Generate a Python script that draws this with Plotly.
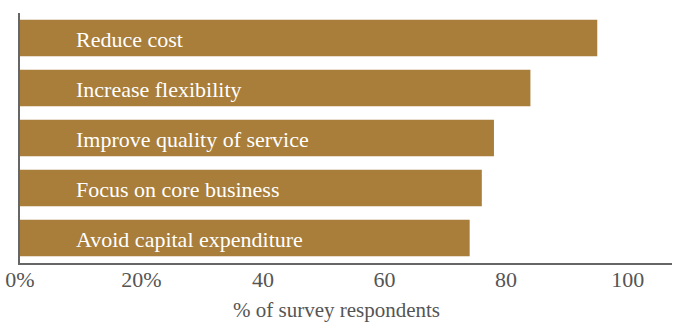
import plotly.graph_objects as go

categories = ["Reduce cost", "Increase flexibility", "Improve quality of service",
              "Focus on core business", "Avoid capital expenditure"]
values = [95, 84, 78, 76, 74]
tick_vals = [0, 20, 40, 60, 80, 100]
tick_text = ["0%", "20%", "40", "60", "80", "100"]

BAR = "#A87E3A"
FONT = "Liberation Serif"

fig = go.Figure()
fig.add_trace(go.Bar(
    y=categories, x=values, orientation="h",
    marker=dict(color=BAR, line=dict(width=0)),
    hoverinfo="skip",
))

for c in categories:
    fig.add_annotation(x=8.9, y=c, xref="x", yref="y", text=c, showarrow=False,
                       xanchor="left", yanchor="middle", yshift=-1,
                       font=dict(family=FONT, size=22, color="white"))

fig.add_annotation(x=0.485, y=0, xref="paper", yref="paper", yshift=-47,
                   text="% of survey respondents", showarrow=False,
                   xanchor="center", yanchor="middle",
                   font=dict(family=FONT, size=21, color="#555555"))

fig.update_layout(
    width=673, height=322,
    margin=dict(l=20, r=1, t=13, b=59),
    paper_bgcolor="white", plot_bgcolor="white",
    bargap=0.267,
    showlegend=False,
    xaxis=dict(range=[0, 107.3], tickvals=tick_vals, ticktext=tick_text,
               showgrid=False, zeroline=False, showline=True,
               linecolor="#666666", linewidth=1.5, ticks="",
               ticklabelstandoff=-4,
               tickfont=dict(family=FONT, size=22, color="#555555")),
    yaxis=dict(categoryorder="array", categoryarray=categories[::-1],
               range=[-0.5, 4.5], showticklabels=False, showgrid=False,
               zeroline=False, showline=True, linecolor="#666666",
               linewidth=1.5, ticks=""),
)

fig.write_html("out.html")
